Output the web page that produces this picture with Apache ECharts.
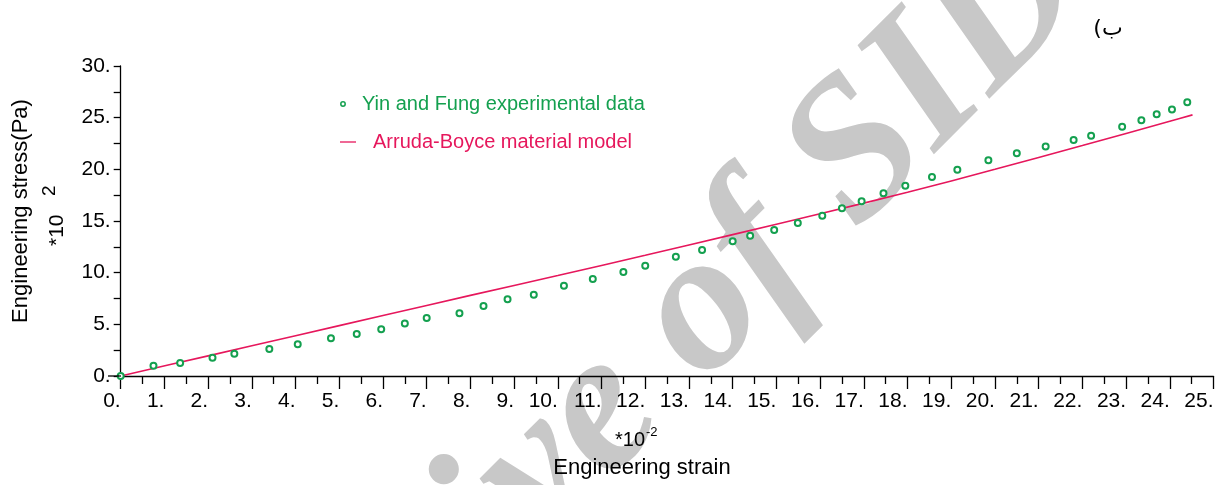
<!DOCTYPE html>
<html>
<head>
<meta charset="utf-8">
<script src="https://cdn.jsdelivr.net/npm/echarts@6/dist/echarts.min.js"></script>
<style>
  html, body { margin: 0; padding: 0; background: #fff; }
  #chart { width: 1226px; height: 485px; }
</style>
</head>
<body>
<div id="chart"></div>
<script>
// ---- data ----
var strainExp = [0, 0.75, 1.36, 2.10, 2.60, 3.40, 4.05, 4.81, 5.40, 5.96,
                 6.50, 7.00, 7.75, 8.30, 8.85, 9.45, 10.14, 10.80, 11.50, 12.00,
                 12.70, 13.30, 14.00, 14.40, 14.95, 15.49, 16.05, 16.50, 16.95, 17.45,
                 17.95, 18.56, 19.14, 19.85, 20.50, 21.16, 21.80, 22.20, 22.91, 23.35,
                 23.70, 24.05, 24.40];
var stressExp = [0, 0.99, 1.26, 1.77, 2.16, 2.61, 3.07, 3.65, 4.07, 4.52,
                 5.07, 5.61, 6.07, 6.78, 7.42, 7.87, 8.74, 9.39, 10.07, 10.68,
                 11.55, 12.20, 13.04, 13.58, 14.13, 14.81, 15.52, 16.23, 16.91, 17.68,
                 18.42, 19.26, 19.97, 20.88, 21.56, 22.20, 22.85, 23.26, 24.13, 24.75,
                 25.33, 25.78, 26.50];
var strainModel = [0, 2, 4, 6, 8, 10, 12, 14, 16, 18, 20, 22, 24, 24.52];
var stressModel = [0, 1.95, 3.9, 5.85, 7.8, 9.72, 11.68, 13.68, 15.7, 17.78, 20.0, 22.3, 24.65, 25.27];

var seriesNames = ['Yin and Fung experimental data', 'Arruda-Boyce material model'];
var xAxisTitle = 'Engineering strain';
var xAxisScale = '*10';
var xAxisScaleExp = '-2';
var yAxisTitle = 'Engineering stress(Pa)';
var yAxisScale = '*10';
var yAxisScaleExp = '2';
var cornerLabel = '(\u0628';
var watermark = 'Archive of SID';

var GREEN = '#14a04f';
var RED = '#e6175c';
var FONT = '"Liberation Sans", Arial, sans-serif';

function zip(a, b) { return a.map(function (v, i) { return [v, b[i]]; }); }

var chart = echarts.init(document.getElementById('chart'), null, { renderer: 'canvas' });

var option = {
  animation: false,
  backgroundColor: '#ffffff',
  grid: { left: 120.7, right: 12.5, top: 66, bottom: 109, containLabel: false },
  xAxis: {
    type: 'value', min: 0, max: 25, interval: 1,
    axisLine: { show: true, onZero: false, lineStyle: { color: '#000', width: 1.3 } },
    axisTick: { show: true, inside: false, length: 13, lineStyle: { color: '#000', width: 1.3 } },
    minorTick: { show: true, splitNumber: 2, length: 8, lineStyle: { color: '#000', width: 1.3 } },
    splitLine: { show: false },
    axisLabel: {
      show: true, interval: 0, hideOverlap: false, align: 'right', margin: 15,
      color: '#000', fontSize: 21, fontFamily: FONT,
      formatter: function (v) { return v + '.'; }
    }
  },
  yAxis: {
    type: 'value', min: 0, max: 30, interval: 5,
    axisLine: { show: true, onZero: false, lineStyle: { color: '#000', width: 1.3 } },
    axisTick: { show: true, inside: false, length: 7, lineStyle: { color: '#000', width: 1.3 } },
    minorTick: { show: true, splitNumber: 2, length: 7, lineStyle: { color: '#000', width: 1.3 } },
    splitLine: { show: false },
    axisLabel: {
      show: true, margin: 10, color: '#000', fontSize: 21, fontFamily: FONT,
      formatter: function (v) { return v + '.'; }
    }
  },
  series: [
    {
      name: seriesNames[1], type: 'line', data: zip(strainModel, stressModel),
      smooth: 0.3, showSymbol: false, symbol: 'none', z: 3,
      lineStyle: { color: RED, width: 1.6 }
    },
    {
      name: seriesNames[0], type: 'scatter', data: zip(strainExp, stressExp),
      symbol: 'emptyCircle', symbolSize: 6, z: 4,
      itemStyle: { color: GREEN, borderWidth: 1.8, opacity: 1 }
    }
  ],
  graphic: [
    {
      type: 'text', z: -10, silent: true,
      x: 176, y: 839, rotation: Math.PI / 4,
      style: {
        text: watermark, fill: '#c8c8c8',
        font: 'italic bold 200px "Liberation Serif", "DejaVu Serif", serif',
        align: 'left', verticalAlign: 'middle'
      }
    },
    // small left extension of the x axis line
    { type: 'line', z: 10, shape: { x1: 108, y1: 376, x2: 121, y2: 376 },
      style: { stroke: '#000', lineWidth: 1.3 } },
    // legend
    { type: 'circle', z: 10, shape: { cx: 343, cy: 104, r: 2.2 },
      style: { fill: '#fff', stroke: GREEN, lineWidth: 1.5 } },
    { type: 'text', z: 10, x: 362, y: 104,
      style: { text: seriesNames[0], fill: GREEN, font: '20px ' + FONT, align: 'left', verticalAlign: 'middle' } },
    { type: 'line', z: 10, shape: { x1: 340, y1: 142, x2: 356, y2: 142 },
      style: { stroke: RED, lineWidth: 1.3 } },
    { type: 'text', z: 10, x: 373, y: 142,
      style: { text: seriesNames[1], fill: RED, font: '20px ' + FONT, align: 'left', verticalAlign: 'middle' } },
    // y axis title
    { type: 'text', z: 10, x: 21, y: 211, rotation: Math.PI / 2,
      style: { text: yAxisTitle, fill: '#000', font: '22px ' + FONT, align: 'center', verticalAlign: 'middle' } },
    { type: 'text', z: 10, x: 57, y: 246, rotation: Math.PI / 2,
      style: { text: yAxisScale, fill: '#000', font: '21px ' + FONT, align: 'left', verticalAlign: 'middle' } },
    { type: 'text', z: 10, x: 50, y: 196, rotation: Math.PI / 2,
      style: { text: yAxisScaleExp, fill: '#000', font: '19px ' + FONT, align: 'left', verticalAlign: 'middle' } },
    // x axis title
    { type: 'text', z: 10, x: 645, y: 440,
      style: { text: xAxisScale, fill: '#000', font: '20px ' + FONT, align: 'right', verticalAlign: 'middle' } },
    { type: 'text', z: 10, x: 646, y: 432,
      style: { text: xAxisScaleExp, fill: '#000', font: '13px ' + FONT, align: 'left', verticalAlign: 'middle' } },
    { type: 'text', z: 10, x: 642, y: 468,
      style: { text: xAxisTitle, fill: '#000', font: '22px ' + FONT, align: 'center', verticalAlign: 'middle' } },
    // corner label
    { type: 'text', z: 10, x: 1108, y: 29,
      style: { text: cornerLabel, fill: '#000', font: '22px "DejaVu Sans", "Noto Sans", sans-serif', align: 'center', verticalAlign: 'middle' } }
  ]
};
chart.setOption(option);
</script>
</body>
</html>
